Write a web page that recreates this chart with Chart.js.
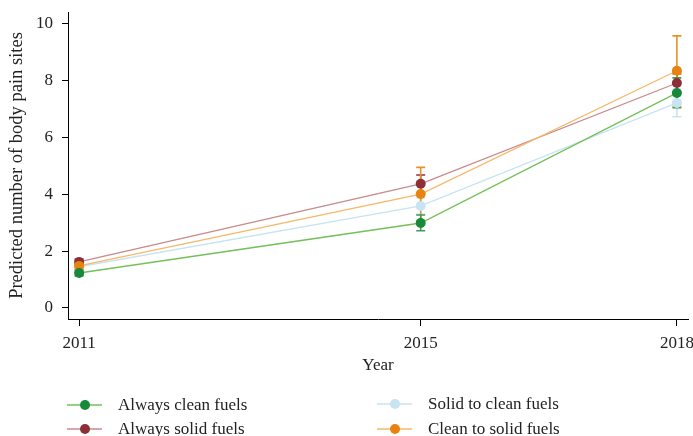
<!DOCTYPE html>
<html><head><meta charset="utf-8">
<script src="https://cdn.jsdelivr.net/npm/chart.js@4.4.1/dist/chart.umd.min.js"></script>
<style>html,body{margin:0;padding:0;background:#fff}canvas{display:block}</style>
</head><body>
<canvas id="c" width="693" height="436"></canvas>
<script>
const years = [2011, 2015, 2018];
const yTicks = [0, 2, 4, 6, 8, 10];
const seriesNames = ["Always clean fuels", "Always solid fuels", "Solid to clean fuels", "Clean to solid fuels"];
const alwaysClean = [1.23, 2.99, 7.57];
const alwaysCleanLo = [1.13, 2.72, 7.05];
const alwaysCleanHi = [1.33, 3.27, 8.10];
const alwaysSolid = [1.62, 4.37, 7.92];
const alwaysSolidLo = [1.52, 4.05, 7.60];
const alwaysSolidHi = [1.72, 4.68, 8.25];
const solidToClean = [1.45, 3.59, 7.22];
const solidToCleanLo = [1.35, 3.30, 6.73];
const solidToCleanHi = [1.55, 3.88, 7.70];
const cleanToSolid = [1.48, 4.01, 8.35];
const cleanToSolidLo = [1.36, 3.08, 7.10];
const cleanToSolidHi = [1.60, 4.95, 9.58];

const FONT = "'Liberation Serif', 'Times New Roman', serif";
const mk = (arr) => arr.map((v, i) => ({x: years[i], y: v}));

const series = [
  {name: seriesNames[0], data: alwaysClean, lo: alwaysCleanLo, hi: alwaysCleanHi, pt: '#168a38', line: '#74c05a', err: '#3f9a55'},
  {name: seriesNames[3], data: cleanToSolid, lo: cleanToSolidLo, hi: cleanToSolidHi, pt: '#e8830f', line: '#f6b868', err: '#e8912a'},
  {name: seriesNames[1], data: alwaysSolid, lo: alwaysSolidLo, hi: alwaysSolidHi, pt: '#8c2f37', line: '#c98a8e', err: '#8c2f37'},
  {name: seriesNames[2], data: solidToClean, lo: solidToCleanLo, hi: solidToCleanHi, pt: '#c8e3f1', line: '#c8e3f1', err: '#c8e3f1'}
];

const errorBars = {
  id: 'errorBars',
  beforeDatasetsDraw(chart) {
    const ctx = chart.ctx, xs = chart.scales.x, ys = chart.scales.y;
    ctx.save();
    for (let k = series.length - 1; k >= 0; k--) {
      const s = series[k];
      ctx.strokeStyle = s.err; ctx.lineWidth = 1.6;
      years.forEach((yr, i) => {
        const px = xs.getPixelForValue(yr);
        const a = ys.getPixelForValue(s.lo[i]), b = ys.getPixelForValue(s.hi[i]);
        ctx.beginPath();
        ctx.moveTo(px, a); ctx.lineTo(px, b);
        ctx.moveTo(px - 4.5, a); ctx.lineTo(px + 4.5, a);
        ctx.moveTo(px - 4.5, b); ctx.lineTo(px + 4.5, b);
        ctx.stroke();
      });
    }
    ctx.restore();
  }
};

const legendItems = [
  {i: 0, x: 85, y: 405},
  {i: 1, x: 85, y: 429},
  {i: 2, x: 395, y: 404},
  {i: 3, x: 395, y: 429}
];
const customLegend = {
  id: 'customLegend',
  afterDraw(chart) {
    const ctx = chart.ctx;
    ctx.save();
    const byName = {};
    series.forEach(s => byName[s.name] = s);
    legendItems.forEach(it => {
      const s = byName[seriesNames[it.i]];
      ctx.strokeStyle = s.line; ctx.lineWidth = 1.5;
      ctx.beginPath(); ctx.moveTo(it.x - 18, it.y); ctx.lineTo(it.x + 17, it.y); ctx.stroke();
      ctx.fillStyle = s.pt;
      ctx.beginPath(); ctx.arc(it.x, it.y, 5, 0, Math.PI * 2); ctx.fill();
      ctx.fillStyle = '#222';
      ctx.font = '17px ' + FONT;
      ctx.textBaseline = 'middle';
      ctx.fillText(s.name, it.x + 33, it.y + 1);
    });
    ctx.restore();
  }
};

new Chart(document.getElementById('c'), {
  type: 'line',
  data: {
    datasets: series.map(s => ({
      label: s.name,
      data: mk(s.data),
      borderColor: s.line,
      backgroundColor: s.pt,
      pointBackgroundColor: s.pt,
      pointBorderColor: s.pt,
      pointRadius: 5,
      pointBorderWidth: 0,
      borderWidth: 1.3,
      tension: 0,
      fill: false
    }))
  },
  options: {
    responsive: false,
    animation: false,
    layout: {padding: {top: 12, right: 5, bottom: 60, left: 0}},
    plugins: {legend: {display: false}, tooltip: {enabled: false}},
    scales: {
      x: {
        type: 'linear', min: 2010.87, max: 2018.13,
        afterBuildTicks: (s) => { s.ticks = years.map(v => ({value: v})); },
        afterFit: (s) => { s.height = 57; s.paddingLeft = 0; s.paddingRight = 0; },
        grid: {drawOnChartArea: false, drawTicks: true, tickLength: 7, color: '#000'},
        border: {display: true, color: '#000', width: 1},
        ticks: {color: '#222', font: {family: FONT, size: 17}, padding: 7, maxRotation: 0, callback: v => String(v)},
        title: {display: true, text: 'Year', color: '#222', font: {family: FONT, size: 17}, padding: {top: 0, bottom: 0}}
      },
      y: {
        type: 'linear', min: -0.39, max: 10.42,
        afterBuildTicks: (s) => { s.ticks = yTicks.map(v => ({value: v})); },
        afterFit: (s) => { s.width = 68; s.paddingTop = 0; s.paddingBottom = 0; },
        grid: {drawOnChartArea: false, drawTicks: true, tickLength: 6, color: '#000'},
        border: {display: true, color: '#000', width: 1},
        ticks: {color: '#222', font: {family: FONT, size: 17}, padding: 9, callback: v => String(v)},
        title: {display: true, text: 'Predicted number of body pain sites', color: '#222', font: {family: FONT, size: 18.5}, padding: {top: 6, bottom: 0}}
      }
    }
  },
  plugins: [errorBars, customLegend]
});
</script>
</body></html>
